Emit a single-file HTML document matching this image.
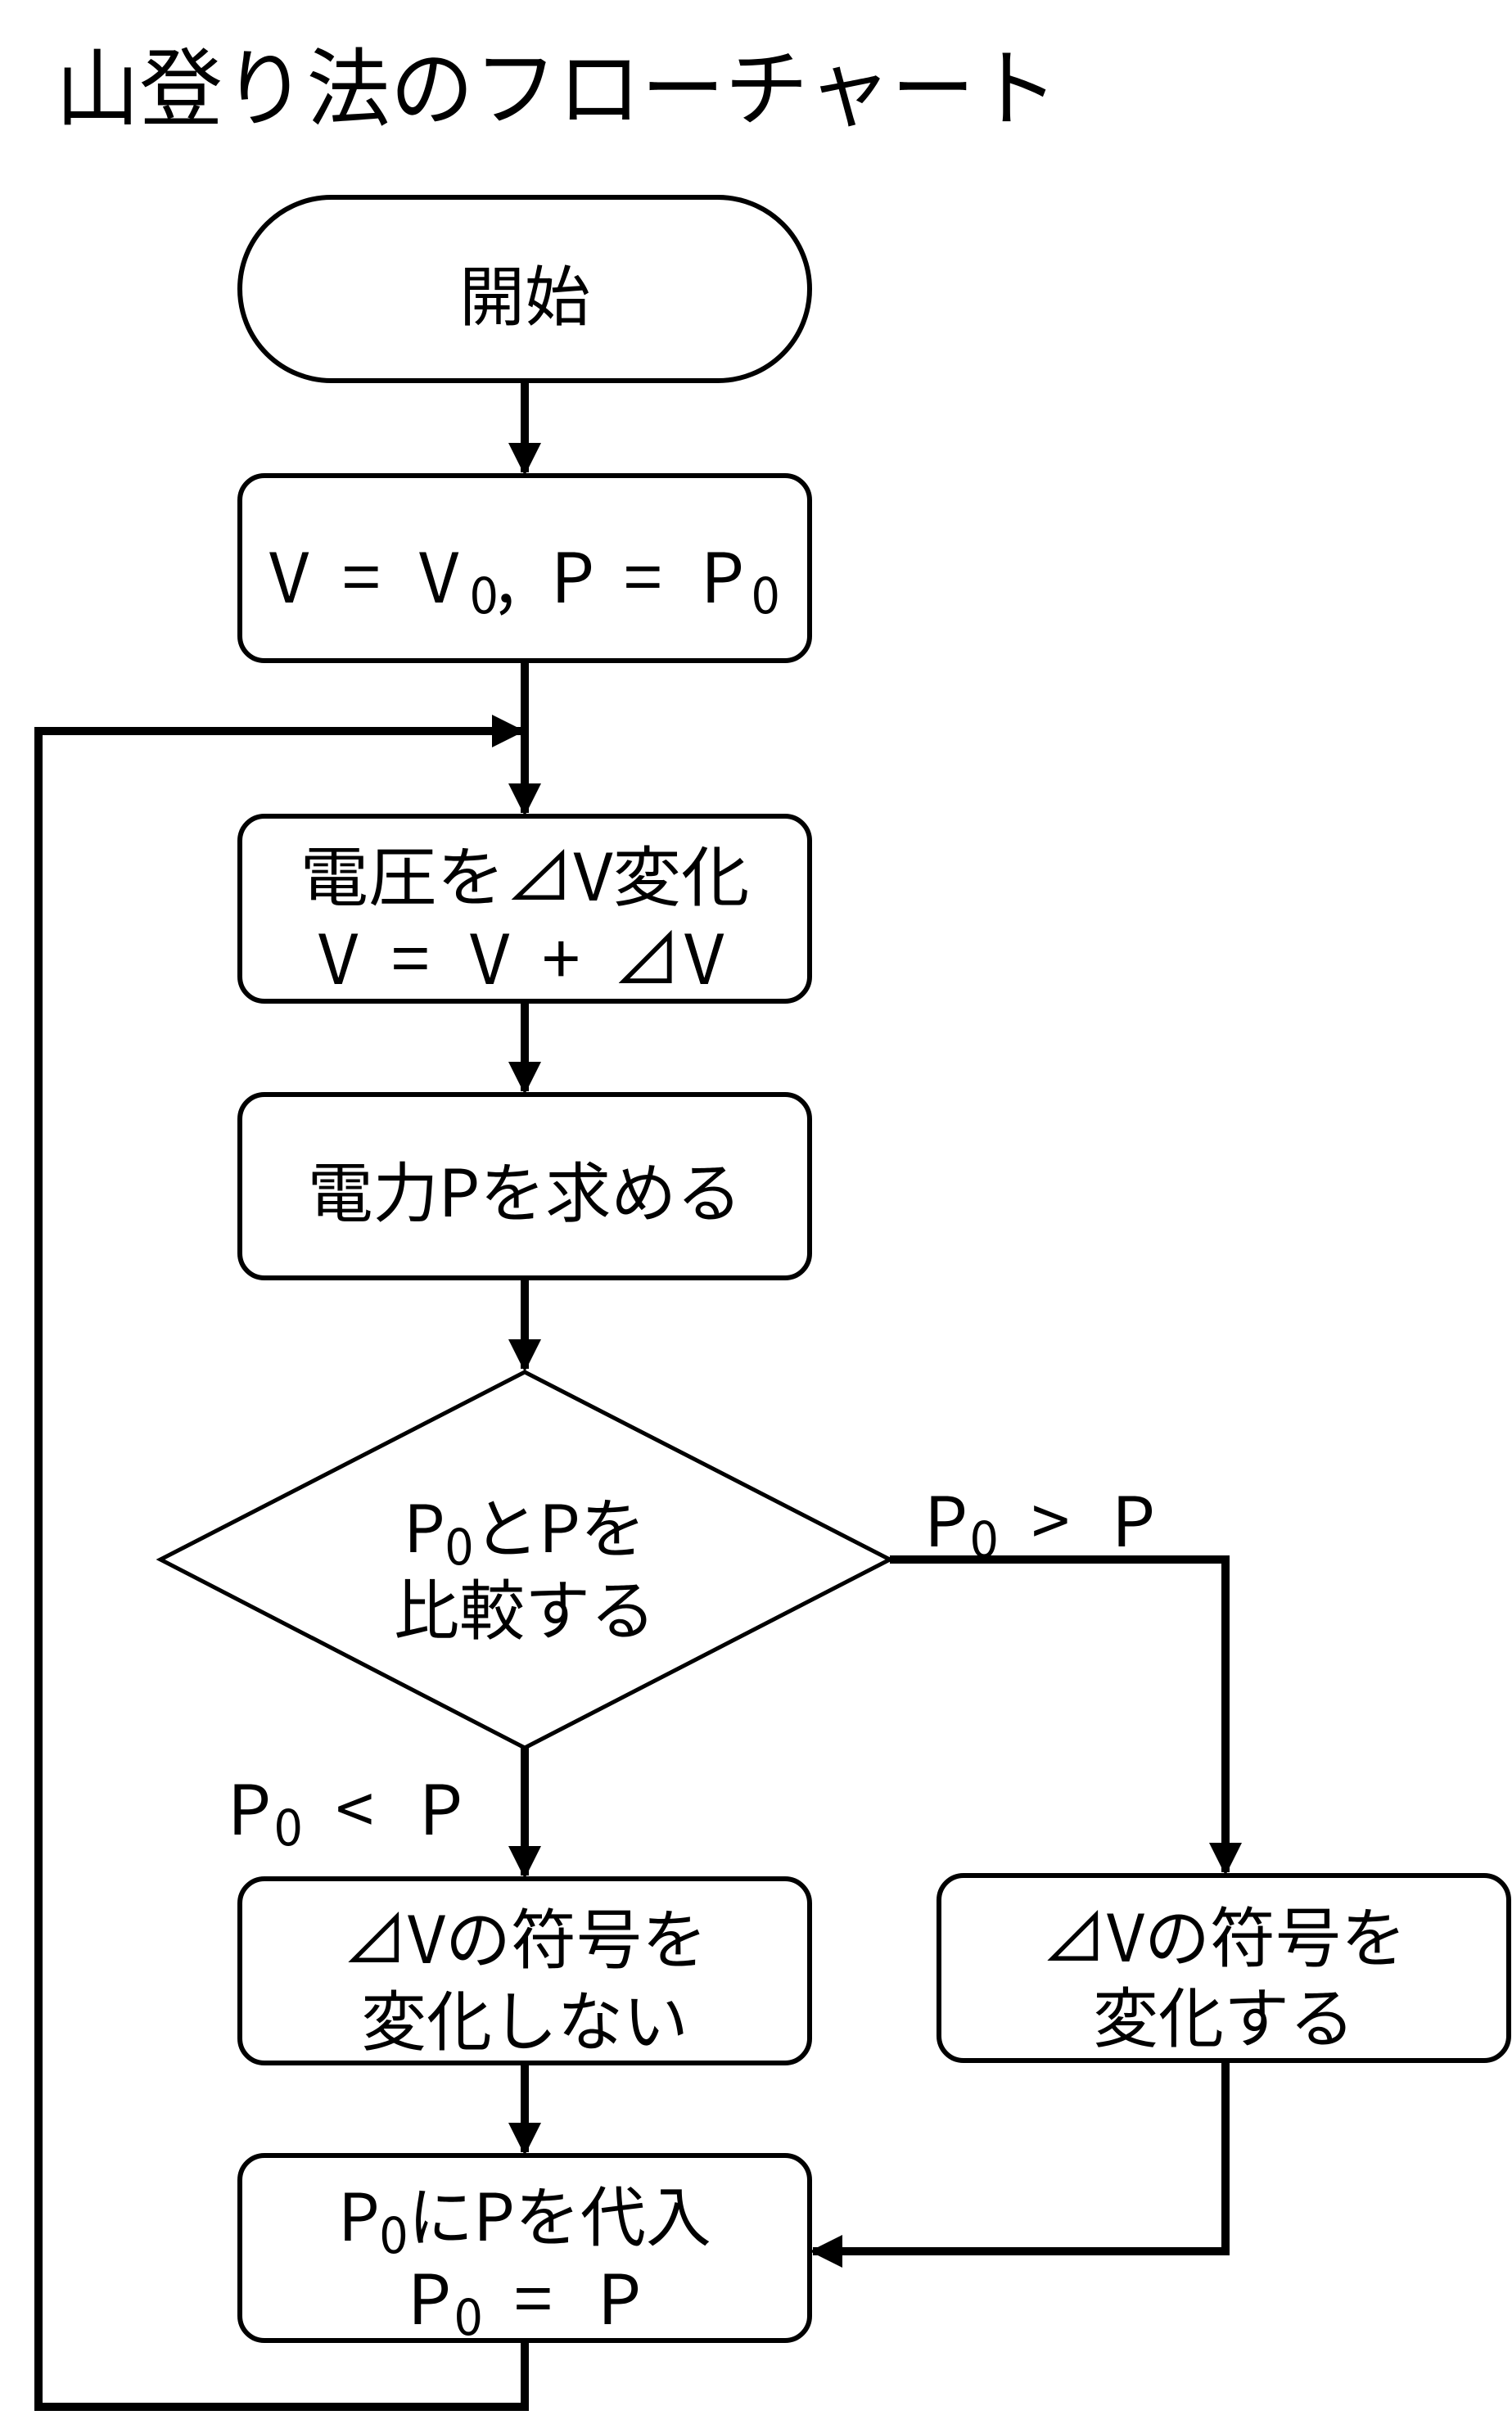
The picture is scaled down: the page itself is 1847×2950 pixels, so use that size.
<!DOCTYPE html>
<html><head><meta charset="utf-8"><style>
html,body{margin:0;padding:0;background:#fff;}
svg{display:block;}
text{font-family:"Noto Sans CJK JP","Liberation Sans",sans-serif;fill:#000;}
</style></head><body>
<svg width="1847" height="2950" viewBox="0 0 1847 2950" xmlns="http://www.w3.org/2000/svg">
<defs>
<marker id="a" markerWidth="4" markerHeight="4" refX="3.6" refY="2" orient="auto" markerUnits="strokeWidth">
<path d="M0,0 L4,2 L0,4 Z" fill="#000"/>
</marker>
</defs>
<text x="68" y="145" font-size="104" textLength="1225" lengthAdjust="spacingAndGlyphs">山登り法のフローチャート</text>

<g fill="#fff" stroke="#000" stroke-width="6">
<rect x="293" y="241" width="696" height="224" rx="112" ry="112"/>
<rect x="293" y="581" width="696" height="226" rx="30"/>
<rect x="293" y="997" width="696" height="226" rx="30"/>
<rect x="293" y="1337" width="696" height="224" rx="30"/>
<polygon points="641,1676 1087,1905 641,2135 196,1905" stroke-width="5"/>
<rect x="293" y="2295" width="696" height="225" rx="30"/>
<rect x="1147" y="2291" width="696" height="226" rx="30"/>
<rect x="293" y="2633" width="696" height="226" rx="30"/>
</g>

<g stroke="#000" stroke-width="10" fill="none">
<line x1="641" y1="465" x2="641" y2="577" marker-end="url(#a)"/>
<line x1="641" y1="807" x2="641" y2="993" marker-end="url(#a)"/>
<line x1="641" y1="1223" x2="641" y2="1333" marker-end="url(#a)"/>
<line x1="641" y1="1561" x2="641" y2="1672" marker-end="url(#a)"/>
<line x1="641" y1="2135" x2="641" y2="2291" marker-end="url(#a)"/>
<polyline points="1087,1905 1497,1905 1497,2287" marker-end="url(#a)"/>
<line x1="641" y1="2520" x2="641" y2="2629" marker-end="url(#a)"/>
<polyline points="1497,2517 1497,2750 993,2750" marker-end="url(#a)"/>
<polyline points="641,2859 641,2940 47,2940 47,893 637,893" marker-end="url(#a)"/>
</g>

<g font-size="80" text-anchor="middle" dominant-baseline="central">
<text x="641" y="357">開始</text>
<text x="641" y="1066" textLength="549" lengthAdjust="spacingAndGlyphs">電圧を⊿V変化</text>
<text x="641" y="1452">電力Pを求める</text>
<text x="641" y="1862">P<tspan font-size="62" dy="22">0</tspan><tspan dy="-22">とPを</tspan></text>
<text x="641" y="1962">比較する</text>
<text x="641" y="2364">⊿Vの符号を</text>
<text x="641" y="2464">変化しない</text>
<text x="1495" y="2362">⊿Vの符号を</text>
<text x="1495" y="2460">変化する</text>
<text x="641" y="2703">P<tspan font-size="62" dy="22">0</tspan><tspan dy="-22">にPを代入</tspan></text>
</g>
<g font-size="84" dominant-baseline="central">
<text y="700"><tspan x="329">V</tspan><tspan x="418">=</tspan><tspan x="512">V</tspan><tspan x="574" dy="22" font-size="62">0</tspan><tspan x="606" dy="-22">,</tspan><tspan x="673">P</tspan><tspan x="762">=</tspan><tspan x="856">P</tspan><tspan x="918" dy="22" font-size="62">0</tspan></text>
<text y="1166"><tspan x="389">V</tspan><tspan x="478">=</tspan><tspan x="574">V</tspan><tspan x="662">+</tspan><tspan x="748">⊿</tspan><tspan x="836">V</tspan></text>
<text y="1853"><tspan x="1129">P</tspan><tspan x="1185" dy="22" font-size="62">0</tspan><tspan x="1260" dy="-22">&gt;</tspan><tspan x="1358">P</tspan></text>
<text y="2205"><tspan x="278">P</tspan><tspan x="335" dy="22" font-size="62">0</tspan><tspan x="410" dy="-22">&lt;</tspan><tspan x="512">P</tspan></text>
<text y="2803"><tspan x="498">P</tspan><tspan x="555" dy="22" font-size="62">0</tspan><tspan x="628" dy="-22">=</tspan><tspan x="730">P</tspan></text>
</g>
</svg>
</body></html>
